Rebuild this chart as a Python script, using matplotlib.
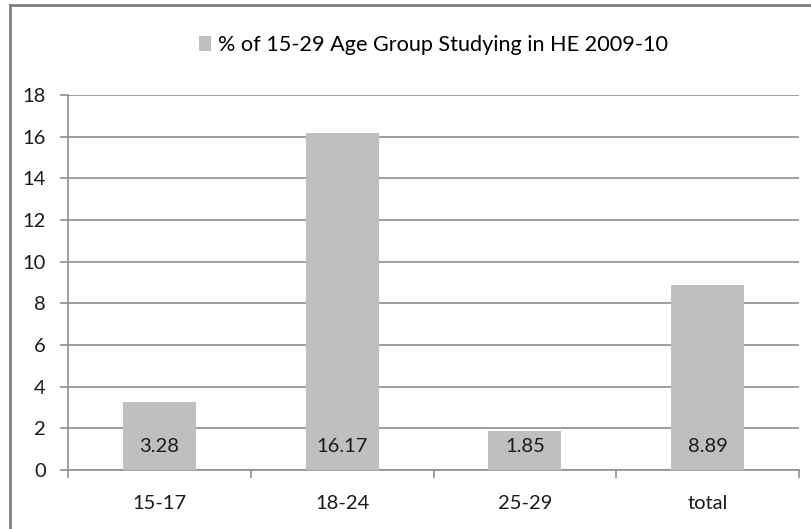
import numpy as np
import matplotlib
matplotlib.use('Agg')
import matplotlib.pyplot as plt
from matplotlib.lines import Line2D

plt.rcParams['font.family'] = ['Lato', 'DejaVu Sans']

categories = ['15-17', '18-24', '25-29', 'total']
values = [3.28, 16.17, 1.85, 8.89]
value_labels = ['3.28', '16.17', '1.85', '8.89']
series_name = '% of 15-29 Age Group Studying in HE 2009-10'

W, H = 811, 529
fig = plt.figure(figsize=(W/100, H/100), dpi=100)
ax = fig.add_axes([68/W, 1 - 470/H, 731/W, 375/H])

grey = '#8f8f8f'
x = np.arange(len(categories))
ax.bar(x, values, width=0.4, color='#bfbfbf', label=series_name, zorder=3)

for xi, lab in zip(x, value_labels):
    ax.text(xi, 1.12, lab, ha='center', va='center', fontsize=14.5, color='#1a1a1a', zorder=4)

ax.set_xlim(-0.5, len(categories) - 0.5)
ax.set_ylim(0, 18)
ax.set_yticks(np.arange(0, 19, 2))
ax.yaxis.grid(True, color=grey, linewidth=1.2)
ax.set_axisbelow(True)

ax.set_xticks(x)
ax.set_xticklabels(categories, fontsize=14.5, color='#1a1a1a')
ax.set_xticks(np.arange(-0.5, len(categories), 1), minor=True)
ax.tick_params(axis='x', which='major', length=0, pad=18)
ax.tick_params(axis='x', which='minor', length=6, width=1.2, color=grey)
ax.tick_params(axis='y', length=6, width=1.2, color=grey, labelsize=14.5,
               labelcolor='#1a1a1a', pad=10)

for s in ['top', 'right']:
    ax.spines[s].set_visible(False)
for s in ['left', 'bottom']:
    ax.spines[s].set_color(grey)
    ax.spines[s].set_linewidth(1.2)

ax.legend(loc='center', bbox_to_anchor=(0.5, (470 - 45) / 375), frameon=False,
          fontsize=15.6, handlelength=0.55, handleheight=0.75, handletextpad=0.35,
          borderpad=0, borderaxespad=0)

# chart-area border (right and bottom edges fall outside the picture)
fig.add_artist(Line2D([10/W, 10/W], [0, 1 - 5/H], transform=fig.transFigure,
                      color='#808080', linewidth=2))
fig.add_artist(Line2D([10/W, 1], [1 - 5/H, 1 - 5/H], transform=fig.transFigure,
                      color='#808080', linewidth=2))

fig.savefig('out.png', dpi=100)
